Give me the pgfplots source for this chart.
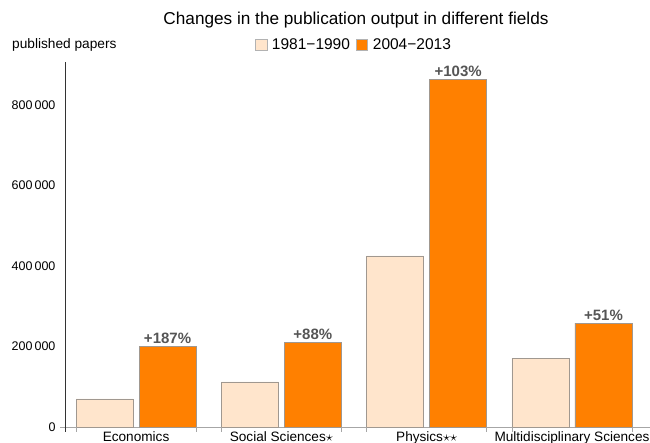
\documentclass[border=0pt]{standalone}
\usepackage{pgfplots}
\pgfplotsset{compat=1.18}
\usepackage{fontspec}
\setmainfont{Liberation Sans}
\definecolor{light}{HTML}{FFE5CC}
\definecolor{orng}{HTML}{FF8000}
\definecolor{edge}{HTML}{A09890}
\definecolor{lbl}{HTML}{555555}
\begin{document}
\begin{tikzpicture}
\begin{axis}[
  at={(0pt,0pt)}, anchor=south west,
  scale only axis, width=585pt, height=365pt,
  xmin=-0.489, xmax=3.537, ymin=0, ymax=906700,
  axis x line*=bottom, axis y line*=left,
  x axis line style={draw=gray!70, -}, y axis line style={draw=black!80, -},
  xtick={0,1,2,3},
  xticklabels={Economics, Social Sciences{$\star$}, Physics{$\star\star$}, Multidisciplinary Sciences},
  x tick style={draw=none},
  ytick={0,200000,400000,600000,800000},
  yticklabels={0, 200\,000, 400\,000, 600\,000, 800\,000},
  y tick style={draw=none},
  scaled y ticks=false,
  yticklabel style={font=\fontsize{12.5}{14}\selectfont, xshift=-6pt},
  xticklabel style={font=\fontsize{13.6}{15}\selectfont, anchor=base, yshift=-10pt},
  bar width=0.392, ybar=0pt,
  legend style={at={(axis description cs:0.494,1.0466)}, anchor=center, draw=none, fill=none,
    font=\fontsize{15.5}{17}\selectfont, legend columns=2,
    /tikz/every odd column/.append style={column sep=3pt},
    /tikz/every even column/.append style={column sep=4pt}},
  legend image code/.code={\draw[#1, draw=gray!60] (0pt,-5.5pt) rectangle (11.5pt,6pt);},
  clip=false,
]
\addplot[fill=light, draw=edge, bar shift=-0.2168] coordinates {(0,70000) (1,112000) (2,425000) (3,171000)};
\addlegendentry{1981−1990}
\addplot[fill=orng, draw=edge, bar shift=0.2168,
  nodes near coords, point meta=explicit symbolic,
  every node near coord/.append style={font=\bfseries\fontsize{15}{17}\selectfont, text=lbl, yshift=-1pt}]
  table[meta=label] {
x y label
0 200000 +187\%
1 211000 +88\%
2 864000 +103\%
3 258000 +51\%
};
\addlegendentry{2004−2013}
\pgfplotsinvokeforeach{-0.413,0.413,0.587,1.413,1.587,2.413,2.587,3.413}{
  \draw[gray!70] (axis cs:#1,0) -- ([yshift=-5pt]axis cs:#1,0);
}
\draw[black!80] (axis cs:-0.489,0) -- ([yshift=-5pt]axis cs:-0.489,0);
\draw[gray!70] (axis cs:-0.489,0) -- ([xshift=-5pt]axis cs:-0.489,0);
\end{axis}
\node[font=\fontsize{17.2}{20}\selectfont] at (291pt,407pt) {Changes in the publication output in different fields};
\node[font=\fontsize{13.7}{15}\selectfont, anchor=west, inner sep=0pt] at (-53pt,382pt) {published papers};
\pgfresetboundingbox
\path (-65pt,-16pt) rectangle (585pt,427pt);
\end{tikzpicture}
\end{document}
